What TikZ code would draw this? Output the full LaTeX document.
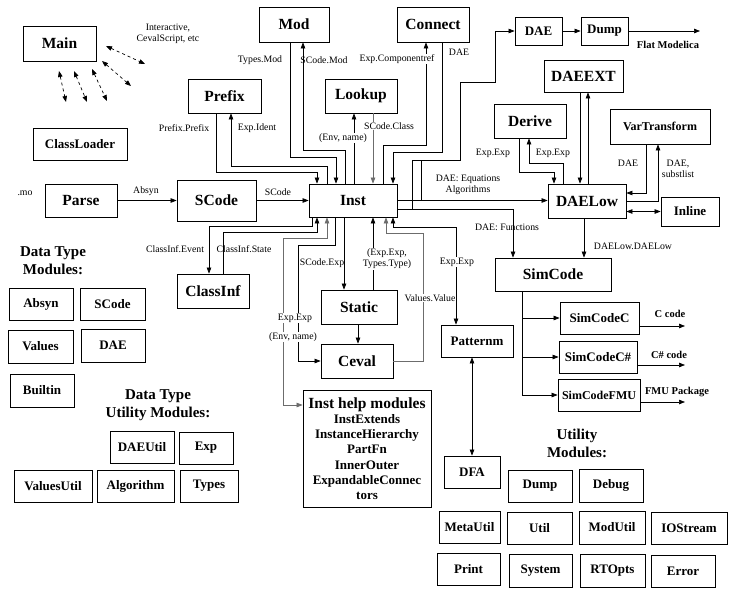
\documentclass[tikz,border=0pt]{standalone}
\usepackage{fontspec}
\setmainfont{Liberation Serif}
\usetikzlibrary{arrows.meta}

\begin{document}
\begin{tikzpicture}[x=1pt, y=-1pt,
    module/.style={draw=black, line width=0.8pt, inner sep=0pt, align=center,
        font=\fontsize{15.5}{17}\selectfont\bfseries},
    minor/.style={module, font=\fontsize{13}{15}\selectfont\bfseries},
    boxsize/.style 2 args={minimum width=#1pt, minimum height=#2pt},
    note/.style={inner sep=1pt, align=center, font=\fontsize{9.8}{11}\selectfont},
    cover/.style={note, fill=white},
    heading/.style={align=center, font=\fontsize{15}{18}\selectfont\bfseries},
    outnote/.style={inner sep=0pt, font=\fontsize{10.5}{12}\selectfont\bfseries},
    edge/.style={line width=0.7pt},
    flow/.style={edge, -{Triangle[length=6pt, width=4.5pt]}},
    both/.style={edge, {Triangle[length=6pt, width=4.5pt]}-{Triangle[length=6pt, width=4.5pt]}},
    faint/.style={draw=gray!85!black}
]
    \path[fill=white] (0,0) rectangle (741,602);
    \useasboundingbox (0,0) rectangle (741,602);

    % main modules
    \node[module, boxsize={73}{35}] (main) at (59.5,43.5) {Main};
    \node[minor, boxsize={94}{32}] (classloader) at (80,144) {ClassLoader};
    \node[module, boxsize={72}{33}] (parse) at (81,200.5) {Parse};
    \node[module, boxsize={79}{41}] (scode) at (216.5,200.5) {SCode};
    \node[module, boxsize={73}{34}] (prefix) at (224.5,96) {Prefix};
    \node[module, boxsize={70}{35}] (mod) at (294,24.5) {Mod};
    \node[module, boxsize={72}{35}] (connect) at (433,24.5) {Connect};
    \node[module, boxsize={72}{34}] (lookup) at (361,96) {Lookup};
    \node[module, boxsize={88}{33}] (inst) at (353,200.5) {Inst};
    \node[module, boxsize={72}{34}] (classinf) at (213,291) {ClassInf};
    \node[module, boxsize={76}{34}] (static) at (359,307) {Static};
    \node[module, boxsize={72}{34}] (ceval) at (357,361) {Ceval};
    \node[module, boxsize={128}{117}, font=\fontsize{13}{15.2}\selectfont\bfseries]
        (help) at (367,448.5) {{\fontsize{15.5}{15}\selectfont Inst help modules}\\InstExtends\\
        InstanceHierarchy\\PartFn\\InnerOuter\\ExpandableConnec\\tors};
    \node[minor, boxsize={72}{32}] (patternm) at (477,341) {Patternm};
    \node[minor, boxsize={56}{32}] (dfa) at (472,472) {DFA};
    \node[minor, boxsize={61}{32}] (metautil) at (469.5,527) {MetaUtil};
    \node[minor, boxsize={63}{32}] (print) at (468.5,569) {Print};

    % back end
    \node[module, boxsize={116}{33}] (simcode) at (553,274.5) {SimCode};
    \node[minor, boxsize={79}{32}] (simc) at (599.5,318) {SimCodeC};
    \node[minor, boxsize={78}{32}] (simcs) at (598,357) {SimCodeC\#};
    \node[minor, boxsize={82}{32}, font=\fontsize{12}{14}\selectfont\bfseries] (simfmu) at (599,395) {SimCodeFMU};
    \node[module, boxsize={78}{34}] (daelow) at (587,201) {DAELow};
    \node[minor, boxsize={58}{29}] (inline) at (690,211.5) {Inline};
    \node[minor, boxsize={100}{35}, font=\fontsize{12}{14}\selectfont\bfseries] (vartransform) at (660,126.5) {VarTransform};
    \node[module, boxsize={72}{34}] (derive) at (530,121) {Derive};
    \node[module, boxsize={79}{32}] (daeext) at (583.5,76) {DAEEXT};
    \node[minor, boxsize={47}{28}] (dae) at (538.5,31) {DAE};
    \node[minor, boxsize={47}{28}] (dump) at (604.5,31) {Dump};

    % data type modules
    \node[heading] (dtmods) at (53,261) {Data Type\\Modules:};
    \node[minor, boxsize={64}{32}] (absyn) at (41,304) {Absyn};
    \node[minor, boxsize={65}{32}] (scodedt) at (112.5,304) {SCode};
    \node[minor, boxsize={65}{33}] (values) at (40.5,346.5) {Values};
    \node[minor, boxsize={64}{33}] (daedt) at (113,345.5) {DAE};
    \node[minor, boxsize={64}{33}] (builtin) at (42,390.5) {Builtin};

    % data type utility modules
    \node[heading] (dtutil) at (158,405) {Data Type\\Utility Modules:};
    \node[minor, boxsize={64}{32}] (daeutil) at (142,447) {DAEUtil};
    \node[minor, boxsize={54}{32}] (exp) at (206,448) {Exp};
    \node[minor, boxsize={78}{32}] (valuesutil) at (53,486) {ValuesUtil};
    \node[minor, boxsize={77}{32}] (algorithm) at (135.5,486) {Algorithm};
    \node[minor, boxsize={58}{32}] (types) at (209,486) {Types};

    % utility modules
    \node[heading] (utilmods) at (577,443) {Utility\\Modules:};
    \node[minor, boxsize={64}{32}] (dumputil) at (540,486) {Dump};
    \node[minor, boxsize={64}{33}] (debug) at (611,485.5) {Debug};
    \node[minor, boxsize={65}{32}] (util) at (539.5,528) {Util};
    \node[minor, boxsize={66}{33}] (modutil) at (612,527.5) {ModUtil};
    \node[minor, boxsize={76}{32}] (iostream) at (689,528) {IOStream};
    \node[minor, boxsize={63}{33}] (system) at (540.5,570.5) {System};
    \node[minor, boxsize={65}{33}] (rtopts) at (612.5,570.5) {RTOpts};
    \node[minor, boxsize={64}{32}] (error) at (683,571) {Error};

    % Main <-> front end
    \coordinate (ia) at (106,46);  \coordinate (ib) at (145,64);
    \coordinate (ja) at (102,61);  \coordinate (jb) at (131,86);
    \coordinate (ka) at (59,71);   \coordinate (kb) at (66,102);
    \coordinate (la) at (74,71);   \coordinate (lb) at (87,102);
    \coordinate (ma) at (92,69);   \coordinate (mb) at (107,101);
    \draw[both, dashed] (ia) -- (ib);
    \draw[both, dashed] (ja) -- (jb);
    \draw[both, dashed] (ka) -- (kb);
    \draw[both, dashed] (la) -- (lb);
    \draw[both, dashed] (ma) -- (mb);
    \node[note] (interactive) at (168,34) {Interactive,\\CevalScript, etc};

    \node[note] (mofile) at (25,193) {.mo};
    \draw[flow] (parse) -- (scode);
    \node[note] (absynlab) at (146,191) {Absyn};
    \draw[flow] (scode) -- (inst);
    \node[note] (scodelab) at (278,192) {SCode};

    % Inst and its helpers above
    \draw[flow] (216,0 |- prefix.south) |- (317,172) -- (317,0 |- inst.north);
    \draw[flow] (327,0 |- inst.north) |- (231,166) -- (231,0 |- prefix.south);
    \draw[flow] (290,0 |- mod.south) |- (336,157) -- (336,0 |- inst.north);
    \draw[flow] (345,0 |- inst.north) |- (303,150) -- (303,0 |- mod.south);
    \draw[flow] (354,0 |- inst.north) -- (354,0 |- lookup.south);
    \draw[flow, faint] (373,0 |- lookup.south) -- (373,0 |- inst.north);
    \draw[flow] (442,0 |- connect.south) |- (393,152) -- (393,0 |- inst.north);
    \draw[flow] (383,0 |- inst.north) |- (426,145) -- (426,0 |- connect.south);
    \node[note] (prefixlab) at (184,128) {Prefix.Prefix};
    \node[note] (identlab) at (257,128) {Exp.Ident};
    \node[note] (typesmodlab) at (260,60) {Types.Mod};
    \node[note] (scodemodlab) at (324,60) {SCode.Mod};
    \node[cover] (envlab) at (343,138) {(Env, name)};
    \node[cover] (classlab) at (389,126) {SCode.Class};
    \node[cover] (crefl) at (397,59) {Exp.Componentref};
    \node[note] (daelab) at (459,52) {DAE};

    % Inst and its helpers below
    \draw[flow] (312,0 |- inst.south) |- (209,226) -- (209,0 |- classinf.north);
    \draw[flow] (223,0 |- classinf.north) |- (317,232) -- (317,0 |- inst.south);
    \draw[both, faint] (327,0 |- inst.south) |- (283,238) |- (help.west |- 0,405);
    \draw[flow] (335,0 |- inst.south) |- (298,245) |- (ceval.west);
    \draw[flow] (344,0 |- inst.south) -- (344,0 |- static.north);
    \draw[flow] (373,0 |- static.north) -- (373,0 |- inst.south);
    \draw[flow] (358,0 |- static.south) -- (358,0 |- ceval.north);
    \draw[flow, faint] (ceval.east) -| (423,233) -| (386,0 |- inst.south);
    \draw[both] (393,0 |- inst.south) |- (456,227) -- (456,0 |- patternm.north);
    \draw[both] (472,0 |- patternm.south) -- (472,0 |- dfa.north);
    \node[note] (eventlab) at (175,249) {ClassInf.Event};
    \node[note] (statelab) at (244,249) {ClassInf.State};
    \node[note] (scodeexplab) at (322,263) {SCode.Exp};
    \node[cover] (typelab) at (387,259) {(Exp.Exp,\\Types.Type)};
    \node[cover] (valuelab) at (430,298) {Values.Value};
    \node[cover] (cevalexplab) at (295,318) {Exp.Exp};
    \node[cover] (cevalenvlab) at (293,337) {(Env, name)};
    \node[cover] (patexplab) at (457,262) {Exp.Exp};

    % Inst to the back end
    \draw[flow] (inst.east) -- (inst.east -| daelow.west);
    \draw[flow] (inst.east |- 0,209) -| (513,0 |- simcode.north);
    \draw[flow] (inst.east |- 0,209) -- (412,209) |- (460,160) |- (495,82) |- (dae.west);
    \draw[edge] (inst.east) -| (421,160);
    \node[note] (eqlab) at (468,185) {DAE: Equations\\Algorithms};
    \node[note] (funclab) at (507,227) {DAE: Functions};
    \draw[flow] (dae) -- (dump);
    \coordinate (flat) at (700,31);
    \draw[flow] (dump) -- (flat);
    \node[outnote] (flatlab) at (668,45) {Flat Modelica};

    % DAELow
    \draw[flow] (519,0 |- derive.south) |- (554,172) -- (554,0 |- daelow.north);
    \draw[flow] (563,0 |- daelow.north) |- (529,163) -- (529,0 |- derive.south);
    \node[note] (derivea) at (493,153) {Exp.Exp};
    \node[note] (deriveb) at (553,153) {Exp.Exp};
    \draw[flow] (580,0 |- daeext.south) -- (580,0 |- daelow.north);
    \draw[flow] (588,0 |- daelow.north) -- (588,0 |- daeext.south);
    \draw[flow] (646,0 |- vartransform.south) |- (daelow.east |- 0,193);
    \draw[flow] (daelow.east |- 0,201) -| (658,0 |- vartransform.south);
    \node[note] (vardae) at (628,163) {DAE};
    \node[note] (varsubst) at (678,169) {DAE,\\substlist};
    \draw[both] (daelow.east |- inline.west) -- (inline.west);
    \draw[flow] (584,0 |- daelow.south) -- (584,0 |- simcode.north);
    \node[note] (daelowlab) at (633,246) {DAELow.DAELow};

    % code generation
    \draw[flow] (522,0 |- simcode.south) |- (simc.west);
    \draw[flow] (522,0 |- simcode.south) |- (simcs.west);
    \draw[flow] (522,0 |- simcode.south) |- (simfmu.west);
    \coordinate (outc) at (685,326);
    \coordinate (outcs) at (685,365);
    \coordinate (outfmu) at (685,402);
    \draw[flow] (simc.east |- outc) -- (outc);
    \draw[flow] (simcs.east |- outcs) -- (outcs);
    \draw[flow] (simfmu.east |- outfmu) -- (outfmu);
    \node[outnote] (clab) at (670,314) {C code};
    \node[outnote] (cslab) at (669,355) {C\# code};
    \node[outnote] (fmulab) at (677,392) {FMU Package};
\end{tikzpicture}
\end{document}
